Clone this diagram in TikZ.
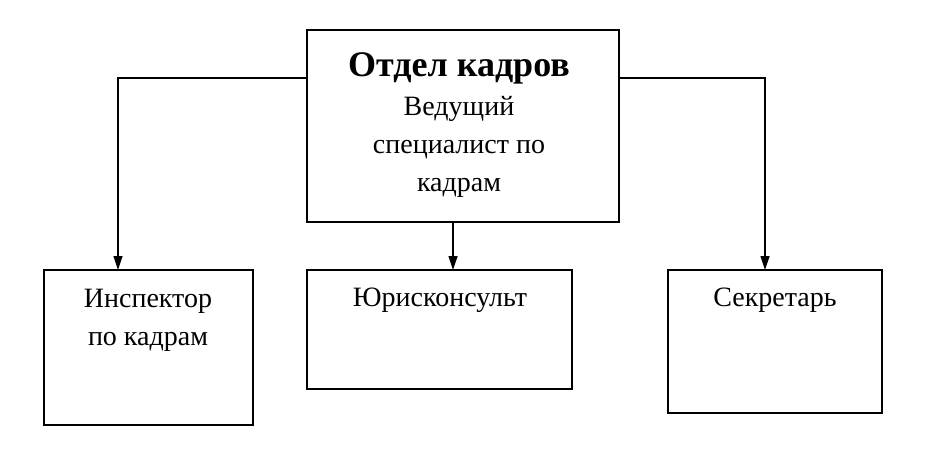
\documentclass[tikz,border=0pt]{standalone}
\usepackage{fontspec}
\setmainfont{Liberation Serif}
\usetikzlibrary{arrows.meta}
\begin{document}
\begin{tikzpicture}[x=1pt,y=-1pt,
  box/.style={draw,line width=1.2pt},
  lbl/.style={font=\fontsize{28}{38}\selectfont,align=center,inner sep=0},
  arr/.style={line width=1.2pt,-{Triangle[length=14pt,width=9pt]}}]
\useasboundingbox (0,0) rectangle (942,460);
\draw[box] (307,30) rectangle (619,222);
\coordinate (tl) at (307,78);
\coordinate (tr) at (619,78);
\coordinate (tb) at (453,222);
\draw[box] (44,270) rectangle (253,425);
\draw[box] (307,270) rectangle (572,389);
\draw[box] (668,270) rectangle (882,413);
\coordinate (lt) at (118,270);
\coordinate (mt) at (453,270);
\coordinate (rt) at (765,270);
\node[lbl,font=\fontsize{36}{38}\selectfont\bfseries] (title) at (459,68) {Отдел кадров};
\node[lbl] (lead) at (459,147) {Ведущий\\специалист по\\кадрам};
\node[lbl] (insp) at (148,320) {Инспектор\\по кадрам};
\node[lbl] (jur) at (440,300) {Юрисконсульт};
\node[lbl] (sec) at (775,300) {Секретарь};
\draw[arr] (tl) -| (lt);
\draw[arr] (tr) -| (rt);
\draw[arr] (tb) -- (mt);
\end{tikzpicture}
\end{document}
